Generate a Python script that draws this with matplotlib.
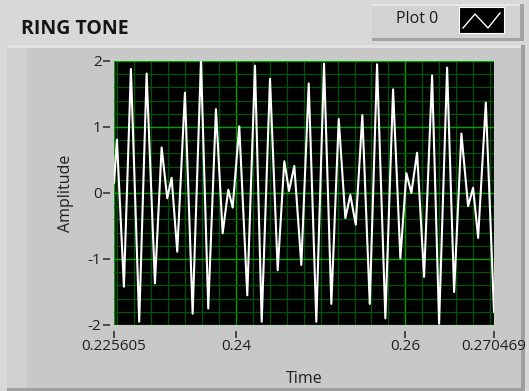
import matplotlib
matplotlib.use("Agg")
import matplotlib.pyplot as plt
from matplotlib.patches import Rectangle
from matplotlib.lines import Line2D
from matplotlib.ticker import MultipleLocator

plt.rcParams['font.family'] = ['Open Sans', 'DejaVu Sans']

# ---- data (local peaks/troughs of the waveform) ----
time_s = [0.225605, 0.225948, 0.226775, 0.227601, 0.228582, 0.229456, 0.230437,
          0.231228, 0.231890, 0.232409, 0.233071, 0.233981, 0.234890, 0.235871,
          0.236733, 0.237643, 0.238434, 0.239096, 0.239616, 0.240395, 0.241340,
          0.242250, 0.243042, 0.244022, 0.244932, 0.245711, 0.246267, 0.246893,
          0.247719, 0.248594, 0.249491, 0.250401, 0.251264, 0.252138, 0.252917,
          0.253508, 0.254146, 0.254926, 0.255800, 0.256662, 0.257643, 0.258553,
          0.259415, 0.260124, 0.260714, 0.261388, 0.262214, 0.263160, 0.263987,
          0.264932, 0.265759, 0.266621, 0.267413, 0.268003, 0.268594, 0.269503,
          0.270469]
amplitude = [0.15, 0.81, -1.42, 1.88, -1.95, 1.81, -1.37,
             0.69, -0.08, 0.23, -0.89, 1.52, -1.83, 2.0,
             -1.75, 1.27, -0.61, 0.05, -0.22, 1.01, -1.55,
             1.93, -1.95, 1.73, -1.17, 0.48, 0.03, 0.41,
             -1.09, 1.66, -1.95, 1.96, -1.68, 1.12, -0.38,
             -0.03, -0.48, 1.18, -1.68, 1.95, -1.9, 1.57,
             -0.99, 0.3, 0.0, 0.61, -1.27, 1.78, -1.98,
             1.9, -1.5, 0.9, -0.2, 0.08, -0.68, 1.37,
             -1.8]

x_ticks = [0.225605, 0.24, 0.26, 0.270469]
x_tick_labels = ["0.225605", "0.24", "0.26", "0.270469"]
y_ticks = [-2, -1, 0, 1, 2]
y_tick_labels = ["-2", "-1", "0", "1", "2"]

title = "RING TONE"
x_label = "Time"
y_label = "Amplitude"
legend_label = "Plot 0"

W, H = 529, 391
fig = plt.figure(figsize=(W / 100, H / 100), dpi=100)
fig.patch.set_facecolor('#d8d8d8')

def px_rect(x0, y0, x1, y1, z=-5, **kw):
    r = Rectangle((x0 / W, 1 - y1 / H), (x1 - x0) / W, (y1 - y0) / H,
                  transform=fig.transFigure, zorder=z, **kw)
    fig.add_artist(r)
    return r

# graph panel (3D-ish frame)
px_rect(7, 45, 525, 391, facecolor='#9f9f9f', edgecolor='none', z=-10)
px_rect(7, 45, 521, 388, facecolor='#c8c8c8', edgecolor='none', z=-9)
px_rect(7, 45, 27, 388, facecolor='#d0d0d0', edgecolor='none', z=-8)
px_rect(7, 45, 521, 48, facecolor='#e2e2e2', edgecolor='none', z=-8)

# legend box
px_rect(372, 4, 524, 41, facecolor='#a3a3a3', edgecolor='none', z=-10)
px_rect(372, 4, 520, 38, facecolor='#d2d2d2', edgecolor='none', z=-9)
px_rect(372, 4, 520, 6, facecolor='#e8e8e8', edgecolor='none', z=-8)
px_rect(459, 7, 504, 33, facecolor='black', edgecolor='#ffffff', linewidth=0.8, z=-7)
glyph_x = [463, 475, 488, 500]
glyph_y = [28, 14, 28, 13]
fig.add_artist(Line2D([g / W for g in glyph_x], [1 - g / H for g in glyph_y],
                      transform=fig.transFigure, color='white', linewidth=1.0, zorder=2))
fig.text(417 / W, 1 - 19 / H, legend_label, ha='center', va='center',
         fontsize=11.5, color='#1a1a1a')

fig.text(21 / W, 1 - 29 / H, title, ha='left', va='center',
         fontsize=14, fontweight='bold', color='#151515')

ax = fig.add_axes([114 / W, 66 / H, 380 / W, 264 / H])
ax.set_zorder(1)
ax.set_facecolor('black')
ax.plot(time_s, amplitude, color='white', linewidth=1.5, zorder=3)
ax.set_xlim(x_ticks[0], x_ticks[-1])
ax.set_ylim(-2, 2)

ax.set_xticks(x_ticks)
ax.set_xticklabels(x_tick_labels)
ax.set_yticks(y_ticks)
ax.set_yticklabels(y_tick_labels)
ax.xaxis.set_minor_locator(MultipleLocator(0.002))
ax.yaxis.set_minor_locator(MultipleLocator(0.2))

ax.grid(True, which='major', color='#00a000', linewidth=1.0)
ax.grid(True, which='minor', color='#005500', linewidth=0.9)
ax.set_axisbelow(True)

for s in ax.spines.values():
    s.set_visible(False)
ax.spines['bottom'].set_position(('outward', 4))
ax.spines['left'].set_position(('outward', 3))

ax.tick_params(which='major', direction='out', length=5, width=1.2, color='#333333',
               labelsize=11, labelcolor='#202020', pad=1)
ax.tick_params(which='minor', length=0)

ax.set_xlabel(x_label, fontsize=11.5, color='#202020', labelpad=12)
ax.set_ylabel(y_label, fontsize=11.5, color='#202020', labelpad=10)

fig.savefig('out.png', dpi=100, facecolor=fig.get_facecolor())
